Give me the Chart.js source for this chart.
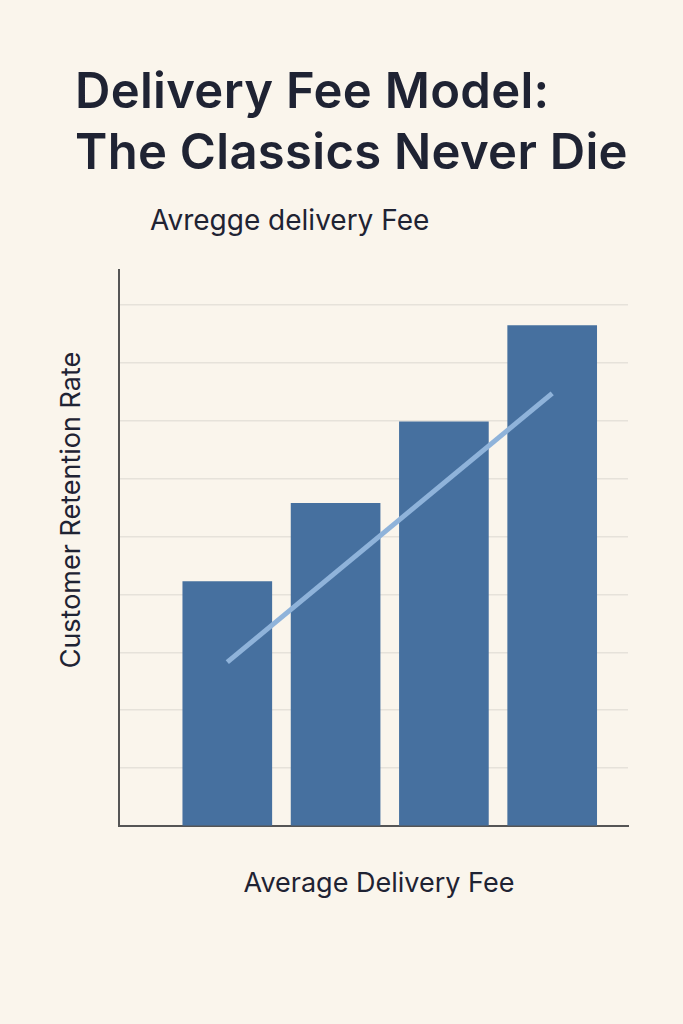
<!DOCTYPE html>
<html>
<head>
<meta charset="utf-8">
<script src="https://cdn.jsdelivr.net/npm/chart.js@4/dist/chart.umd.min.js"></script>
<style>
  html, body { margin: 0; padding: 0; background: #faf5ec; }
  body { width: 683px; height: 1024px; position: relative; overflow: hidden; font-family: Inter, "Noto Sans", sans-serif; color: #1f2333; }
  .title { position: absolute; left: 75px; top: 60px; font-size: 49px; font-weight: 600; line-height: 61px; letter-spacing: 0.3px; }
  .sub { position: absolute; left: 150px; top: 203px; font-size: 28px; }
  .ytitle { position: absolute; left: 70px; top: 510px; font-size: 27px; transform: translate(-50%, -50%) rotate(-90deg); white-space: nowrap; }
  .xtitle { position: absolute; left: 379px; top: 882px; font-size: 27px; transform: translate(-50%, -50%); white-space: nowrap; }
  #wrap { position: absolute; left: 115px; top: 266px; width: 520px; height: 572px; }
</style>
</head>
<body>
<div class="title">Delivery Fee Model:<br>The Classics Never Die</div>
<div class="sub">Avregge delivery Fee</div>
<div class="ytitle">Customer Retention Rate</div>
<div class="xtitle">Average Delivery Fee</div>
<div id="wrap"><canvas id="chart"></canvas></div>
<script>
'use strict';

// Dữ liệu
const positions = [1, 2, 3, 4];
const barValues = [4.22, 5.57, 6.98, 8.64];
const trendStart = { x: 1, y: 2.83 };
const trendEnd = { x: 4, y: 7.47 };

new Chart(document.getElementById('chart'), {
    data: {
        datasets: [
            {
                type: 'line',
                data: [trendStart, trendEnd],
                borderColor: '#8fb3da',
                borderWidth: 5,
                pointRadius: 0,
                order: 0
            },
            {
                type: 'bar',
                data: positions.map((x, i) => ({ x, y: barValues[i] })),
                backgroundColor: '#46709f',
                barThickness: 89,
                order: 1
            }
        ]
    },
    options: {
        responsive: true, maintainAspectRatio: false, animation: false,
        layout: { padding: { left: 4, top: 4, right: 7, bottom: 4 } },
        plugins: { legend: { display: false }, tooltip: { enabled: false } },
        scales: {
            x: {
                type: 'linear', min: 0, max: 4.7, offset: false,
                ticks: { display: false },
                grid: { display: false },
                border: { display: true, color: '#555', width: 2 }
            },
            y: {
                min: 0, max: 9.6,
                ticks: { display: false, stepSize: 1 },
                grid: {
                    color: (c) => (c.tick && c.tick.value > 9) ? 'rgba(0,0,0,0)' : '#e6e2da',
                    lineWidth: 1.5, drawTicks: false
                },
                border: { display: true, color: '#555', width: 2 }
            }
        }
    }
});
</script>
</body>
</html>
